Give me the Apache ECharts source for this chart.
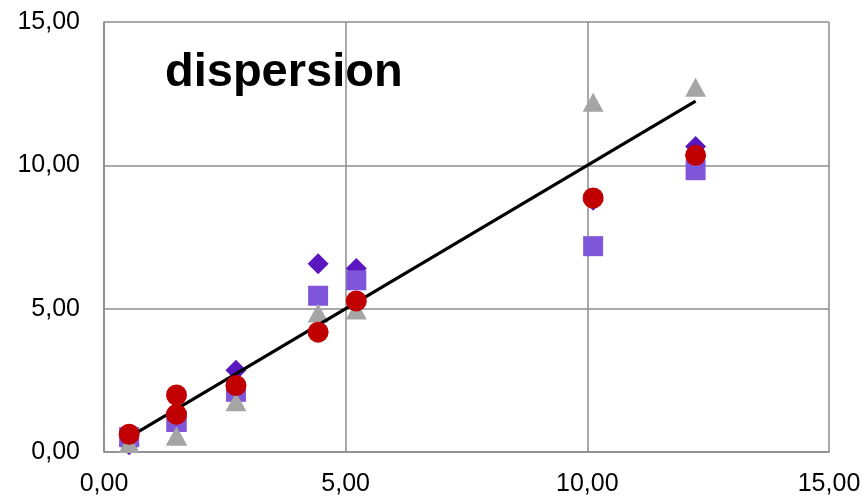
<!DOCTYPE html>
<html>
<head>
<meta charset="utf-8">
<title>dispersion</title>
<script src="https://cdn.jsdelivr.net/npm/echarts@6/dist/echarts.min.js"></script>
<style>
    html, body { margin: 0; padding: 0; background: #fff; }
    #chart-box { width: 864px; height: 497px; }
</style>
</head>
<body>
<div id="chart-box"></div>
<script>
    // x positions of the measurements
    var xValues = [0.52, 1.50, 1.50, 2.73, 4.43, 5.22, 10.12, 12.24];
    // each series
    var diamondY = [0.25, 1.40, 1.40, 2.85, 6.57, 6.40, 8.78, 10.66];
    var squareY = [0.52, 1.05, 1.05, 2.10, 5.45, 5.99, 7.18, 9.83];
    var triangleY = [0.30, 0.56, 0.56, 1.75, 4.85, 4.95, 12.20, 12.72];
    var circleY = [0.62, 1.99, 1.31, 2.32, 4.18, 5.27, 8.86, 10.35];
    // reference line y = x
    var lineX = [0.52, 12.24];
    var lineY = [0.52, 12.24];

    function pairs(xs, ys) {
        var out = [];
        for (var i = 0; i < xs.length; i++) out.push([xs[i], ys[i]]);
        return out;
    }
    function fmt(v) {
        return v.toFixed(2).replace('.', ',');
    }

    var myChart = echarts.init(document.getElementById('chart-box'));
    var gridLine = { show: true, lineStyle: { color: '#8c8c8c', width: 1.5 } };
    var axisText = { fontFamily: 'Liberation Sans, Arial, sans-serif', fontSize: 25, color: '#000' };

    var option = {
        animation: false,
        backgroundColor: '#fff',
        title: {
            text: 'dispersion',
            left: 160,
            top: 45,
            textStyle: {
                fontFamily: 'Liberation Sans, Arial, sans-serif',
                fontWeight: 'bold',
                fontSize: 47,
                color: '#000'
            }
        },
        grid: { left: 104, right: 35, top: 22, bottom: 45, containLabel: false },
        xAxis: {
            type: 'value',
            min: 0, max: 15, interval: 5,
            axisLine: { show: true, onZero: false, lineStyle: { color: '#8c8c8c', width: 1.5 } },
            axisTick: { show: false },
            splitLine: gridLine,
            axisLabel: Object.assign({ margin: 20, formatter: fmt }, axisText)
        },
        yAxis: {
            type: 'value',
            min: 0, max: 15, interval: 5,
            axisLine: { show: true, onZero: false, lineStyle: { color: '#8c8c8c', width: 1.5 } },
            axisTick: { show: false },
            splitLine: gridLine,
            axisLabel: Object.assign({ margin: 24, formatter: fmt }, axisText)
        },
        series: [{
            name: 'diamond',
            type: 'scatter',
            symbol: 'diamond',
            symbolSize: [21, 21],
            z: 2,
            itemStyle: { color: '#5a17c0', opacity: 1 },
            data: pairs(xValues, diamondY)
        }, {
            name: 'square',
            type: 'scatter',
            symbol: 'rect',
            symbolSize: [20, 20],
            z: 3,
            itemStyle: { color: '#7f55d9', opacity: 1 },
            data: pairs(xValues, squareY)
        }, {
            name: 'triangle',
            type: 'scatter',
            symbol: 'triangle',
            symbolSize: [21, 19],
            z: 4,
            itemStyle: { color: '#a5a5a5', opacity: 1 },
            data: pairs(xValues, triangleY)
        }, {
            name: 'line',
            type: 'line',
            symbol: 'none',
            z: 5,
            lineStyle: { color: '#000', width: 3.2 },
            data: pairs(lineX, lineY)
        }, {
            name: 'circle',
            type: 'scatter',
            symbol: 'circle',
            symbolSize: 21,
            z: 6,
            itemStyle: { color: '#c00000', opacity: 1 },
            data: pairs(xValues, circleY)
        }]
    };
    myChart.setOption(option);
</script>
</body>
</html>
